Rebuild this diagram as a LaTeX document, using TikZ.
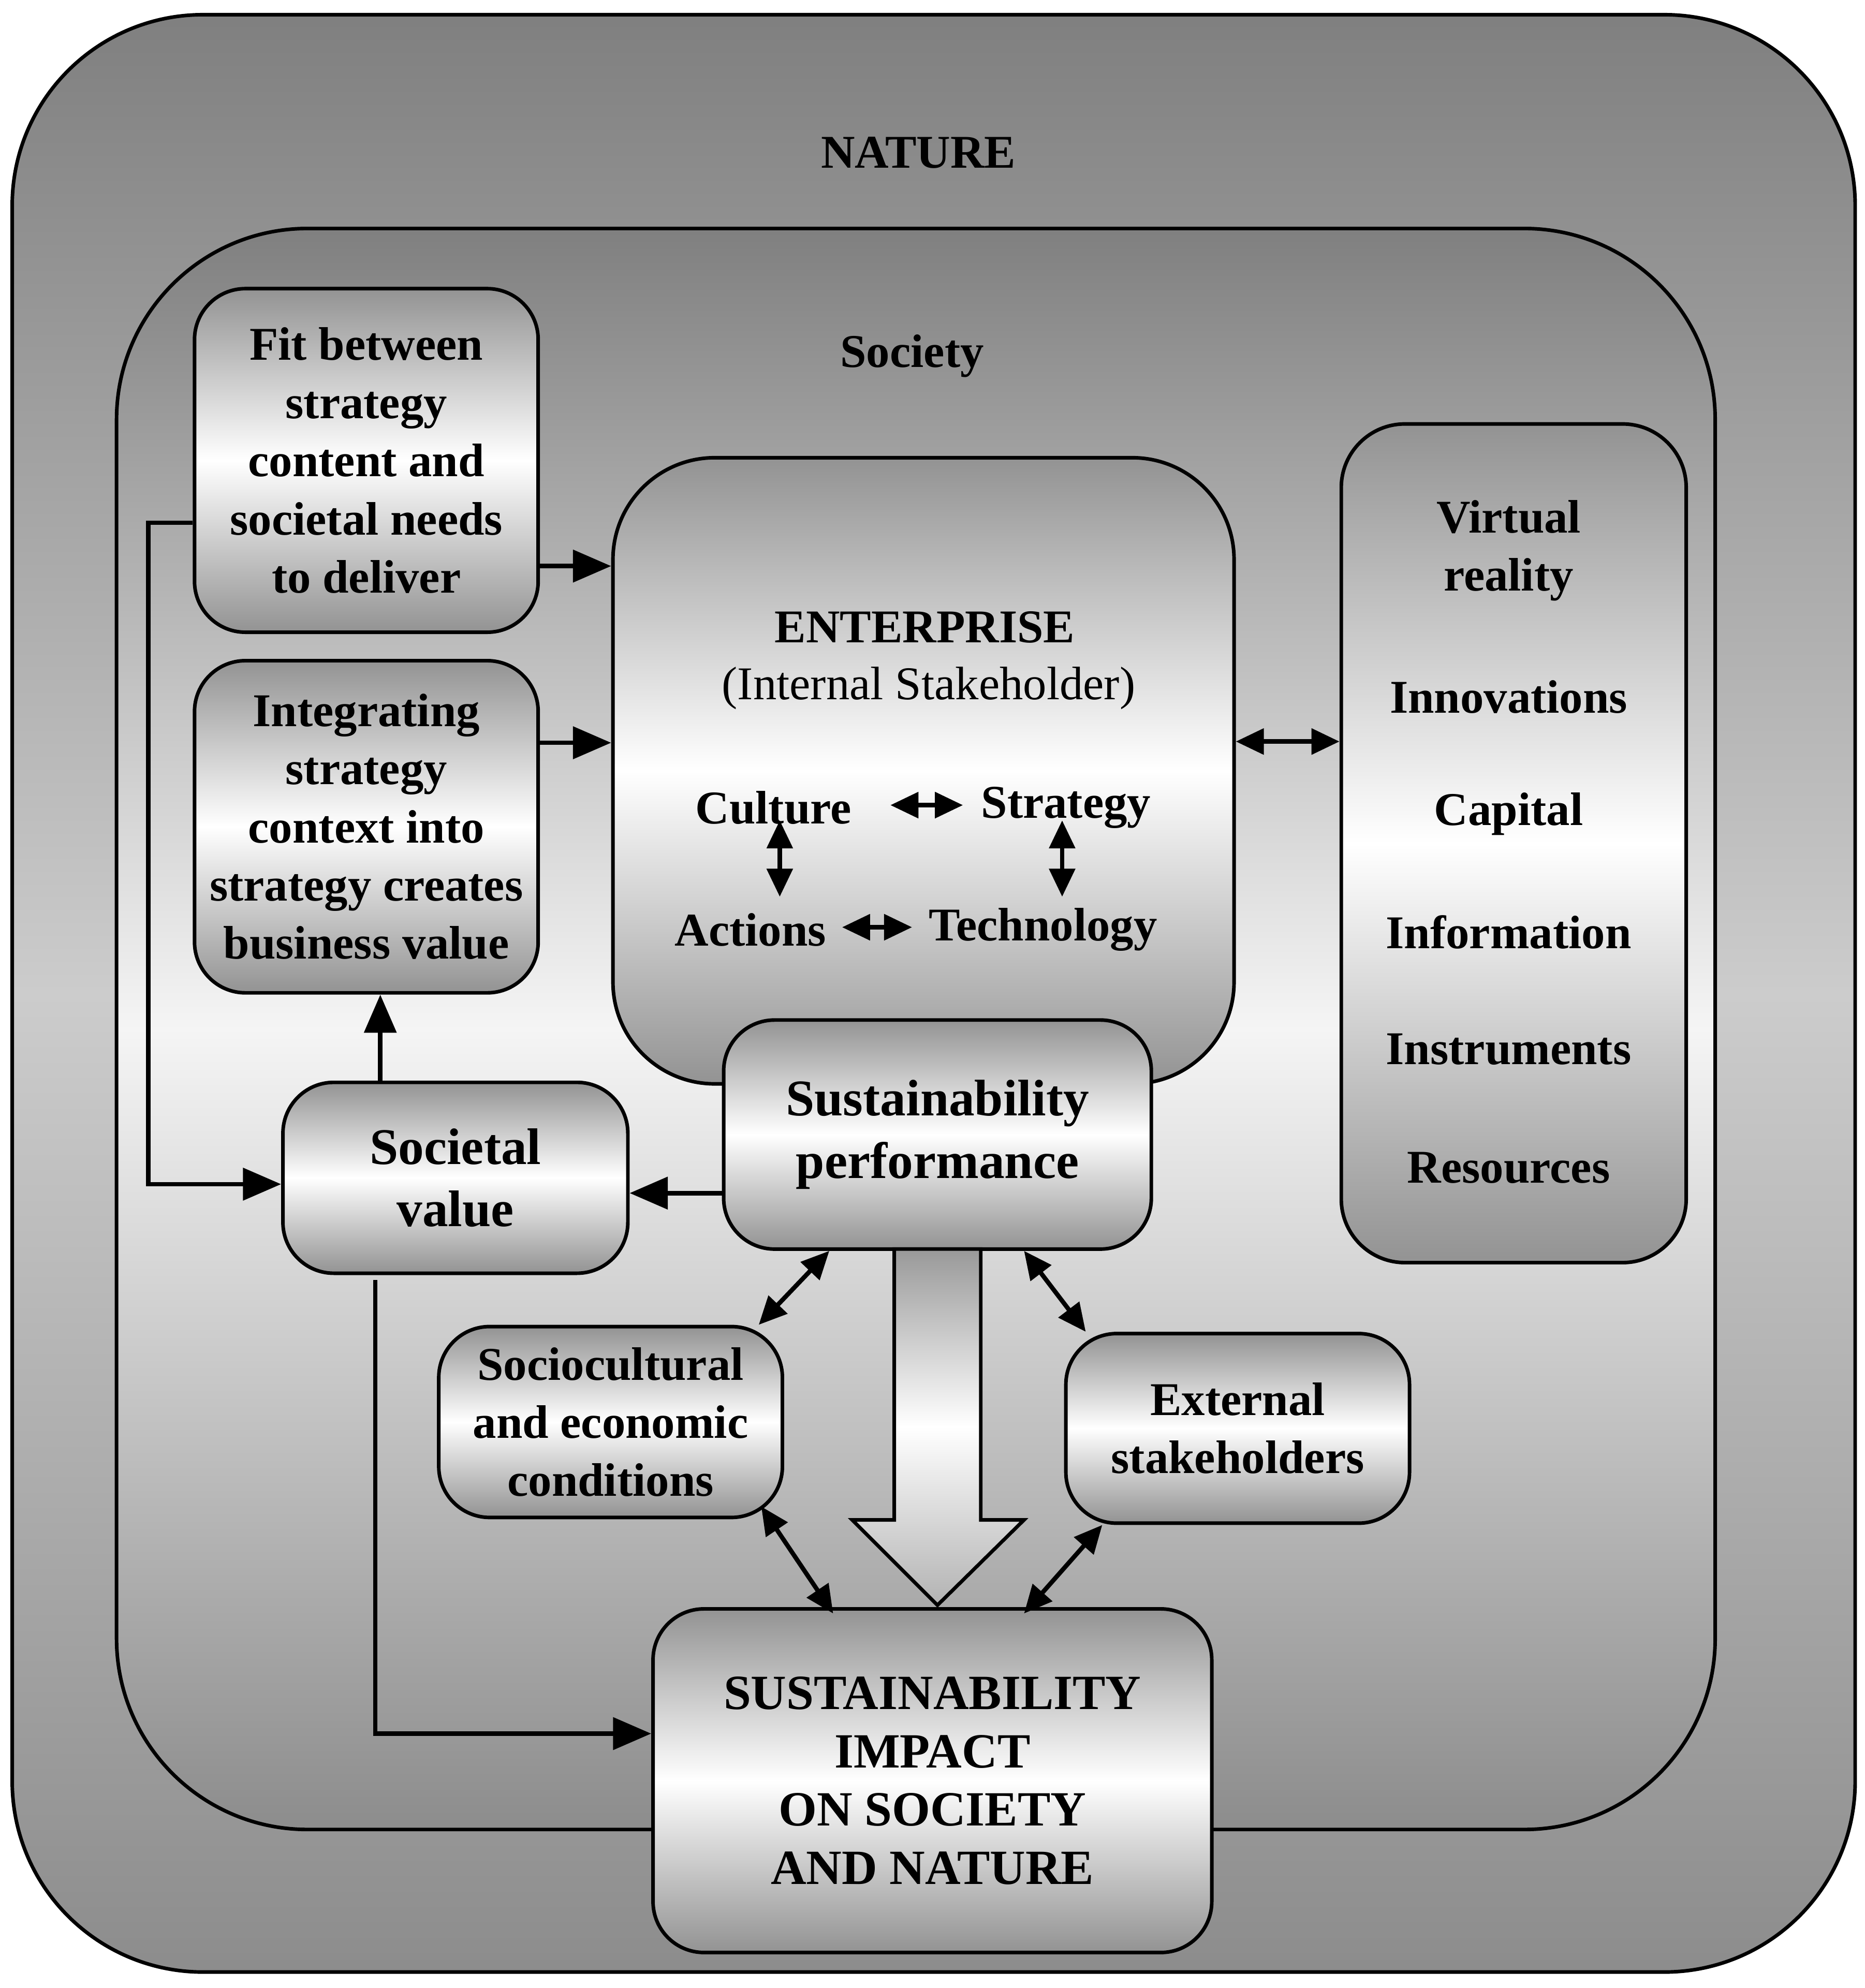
\documentclass[tikz,border=0pt]{standalone}
\usepackage{fontspec}
\setmainfont{Liberation Serif}
\usetikzlibrary{arrows.meta,calc}
\begin{document}
\begin{tikzpicture}[x=0.01cm,y=-0.01cm,
  box/.style={draw=black,line width=0.8pt,rounded corners=0.4cm,top color=gray!85,bottom color=gray!85,middle color=white,align=center,inner sep=0pt,font=\fontsize{10.5}{13}\selectfont\bfseries},
  arr/.style={line width=1pt,-{Triangle[length=0.3cm,width=0.25cm]}},
  darr/.style={line width=1pt,{Triangle[length=0.22cm,width=0.2cm]}-{Triangle[length=0.22cm,width=0.2cm]}},
  txt/.style={font=\fontsize{10.5}{13}\selectfont\bfseries,align=center}]
\useasboundingbox (0,0) rectangle (1466,1563);
\node[box,rounded corners=1.5cm,top color=gray!100,bottom color=gray!90,middle color=gray!40,minimum width=14.48cm,minimum height=15.38cm] (nat) at (734,781) {};
\node[box,rounded corners=1.5cm,top color=gray!100,bottom color=gray!90,middle color=gray!8,minimum width=12.56cm,minimum height=12.58cm] (soc) at (720,809) {};
\node[txt] (natt) at (722,120) {NATURE};
\node[txt] (soct) at (717,280) {Society};
\node[box,rounded corners=0.8cm,minimum width=4.88cm,minimum height=4.92cm] (ent) at (726,606) {};
\node[box,minimum width=2.70cm,minimum height=2.70cm] (fit) at (288,362) {Fit between\\strategy\\content and\\societal needs\\to deliver};
\node[box,minimum width=2.70cm,minimum height=2.61cm] (int) at (288,650) {Integrating\\strategy\\context into\\strategy creates\\business value};
\node[box,rounded corners=0.5cm,minimum width=2.71cm,minimum height=6.59cm] (res) at (1190,663) {};
\node[txt] at (1186,433) {Virtual\\reality};
\node[txt] at (1186,548) {Innovations};
\node[txt] at (1186,640) {Capital};
\node[txt] at (1186,733) {Information};
\node[txt] at (1186,825) {Instruments};
\node[txt] at (1186,918) {Resources};
\node[txt] (entt) at (727,493) {ENTERPRISE};
\node[txt,font=\fontsize{10.5}{13}\selectfont] (ints) at (730,541) {(Internal Stakeholder)};
\node[txt] (cul) at (608,635) {Culture};
\node[txt] (str) at (838,635) {Strategy};
\node[txt] (act) at (590,731) {Actions};
\node[txt] (tec) at (820,731) {Technology};
\coordinate (c1) at (700,633); \coordinate (c2) at (757,633);
\coordinate (a1) at (662,729); \coordinate (a2) at (717,729);
\coordinate (v1) at (613,645); \coordinate (v2) at (613,705);
\coordinate (w1) at (835,645); \coordinate (w2) at (835,705);
\draw[darr] (c1) -- (c2); \draw[darr] (a1) -- (a2);
\draw[darr] (v1) -- (v2); \draw[darr] (w1) -- (w2);
\node[box,minimum width=3.36cm,minimum height=1.80cm,font=\fontsize{11.5}{14}\selectfont\bfseries] (sp) at (737,892) {Sustainability\\performance};
\node[box,minimum width=2.71cm,minimum height=1.50cm,font=\fontsize{11.5}{14}\selectfont\bfseries] (sv) at (358,926) {Societal\\value};
\node[box,minimum width=2.70cm,minimum height=1.50cm] (sc) at (480,1118) {Sociocultural\\and economic\\conditions};
\node[box,minimum width=2.70cm,minimum height=1.49cm] (ext) at (973,1123) {External\\stakeholders};
\draw[line width=0.8pt,top color=gray!80,bottom color=gray!60,middle color=white] (703,982) -- (771,982) -- (771,1195) -- (805,1195) -- (737,1262) coordinate (tip) -- (670,1195) -- (703,1195) -- cycle;
\node[box,minimum width=4.39cm,minimum height=2.70cm,font=\fontsize{11}{13}\selectfont\bfseries] (imp) at (733,1400) {SUSTAINABILITY\\IMPACT\\ON SOCIETY\\AND NATURE};
\draw[arr] ([yshift=-0.83cm]fit.east) -- ([yshift=-0.83cm]fit.east -| ent.west);
\draw[arr] ([yshift=0.66cm]int.east) -- ([yshift=0.66cm]int.east -| ent.west);
\draw[darr] ([yshift=0.23cm]ent.east) -- ([yshift=0.23cm]ent.east -| res.west);
\draw[arr] ([yshift=-0.49cm]fit.west) -- ++(-35,0) |- ([yshift=-0.05cm]sv.west);
\draw[arr] ([xshift=-0.59cm]sv.north) -- ([xshift=-0.59cm]sv.north |- int.south);
\draw[arr] ([yshift=-0.46cm]sp.west) -- ([yshift=-0.46cm]sp.west -| sv.east);
\draw[arr] ([xshift=-0.63cm,yshift=-0.04cm]sv.south) |- ([yshift=0.37cm]imp.west);
\draw[darr] ([xshift=-0.85cm]sp.south) -- ([xshift=-0.2cm]sc.north east);
\draw[darr] ([xshift=0.68cm]sp.south) -- ([xshift=0.17cm]ext.north west);
\draw[darr] ([xshift=-0.18cm,yshift=0.1cm]sc.south east) -- ([xshift=-0.78cm,yshift=-0.05cm]imp.north);
\draw[darr] ([xshift=0.3cm]ext.south west) -- ([xshift=0.72cm,yshift=-0.05cm]imp.north);
\end{tikzpicture}
\end{document}
